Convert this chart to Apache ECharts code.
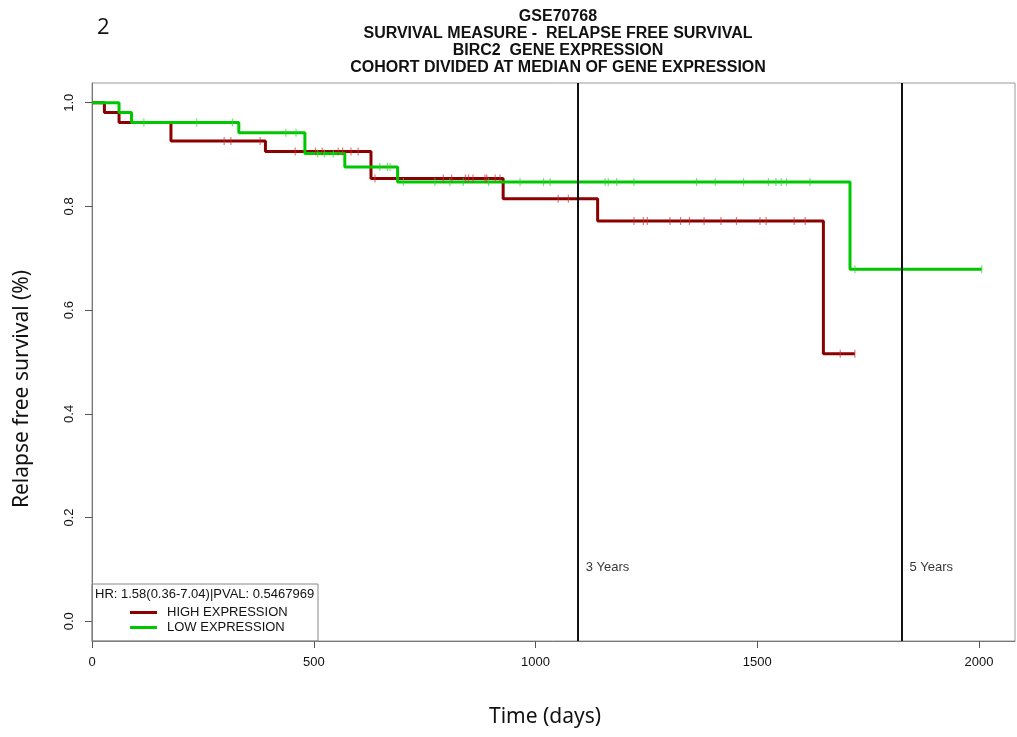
<!DOCTYPE html>
<html>
<head>
<meta charset="utf-8">
<script src="https://cdn.jsdelivr.net/npm/echarts@6/dist/echarts.min.js"></script>
<style>
html,body{margin:0;padding:0;background:#fff;}
#chart{width:1017px;height:737px;}
</style>
</head>
<body>
<div id="chart"></div>
<script>
// ---- data ----
const titleLines = ['GSE70768', 'SURVIVAL MEASURE -  RELAPSE FREE SURVIVAL', 'BIRC2  GENE EXPRESSION', 'COHORT DIVIDED AT MEDIAN OF GENE EXPRESSION'];
const panelLabel = '2';
const seriesNames = ['HIGH EXPRESSION', 'LOW EXPRESSION'];
const hrText = 'HR: 1.58(0.36-7.04)|PVAL: 0.5467969';

const highTimes = [0, 28, 61, 178, 391, 629, 927, 1140, 1649, 1720];
const highSurv  = [1.0, 0.981, 0.962, 0.926, 0.906, 0.854, 0.815, 0.772, 0.516, 0.516];
const highCensor = [298, 313, 379, 458, 504, 519, 555, 565, 584, 600, 638, 792, 811, 842, 849, 859, 886, 890, 909, 920, 1051, 1074, 1222, 1243, 1252, 1303, 1327, 1347, 1380, 1418, 1453, 1506, 1520, 1583, 1608, 1687, 1720];

const lowTimes = [0, 61, 89, 331, 480, 570, 689, 1709, 2006];
const lowSurv  = [1.0, 0.981, 0.962, 0.942, 0.902, 0.876, 0.847, 0.679, 0.679];
const lowCensor = [117, 236, 317, 437, 460, 509, 524, 544, 649, 666, 672, 702, 773, 807, 837, 894, 965, 1018, 1033, 1157, 1164, 1183, 1222, 1363, 1405, 1469, 1525, 1542, 1554, 1566, 1619, 1720, 2006];

const yearLines = [1095, 1825];
const yearLabels = ['3 Years', '5 Years'];
const yearLabelLevel = 0.103;

const xTicks = [0, 500, 1000, 1500, 2000];
const yTicks = [0, 0.2, 0.4, 0.6, 0.8, 1.0];

// ---- helpers ----
function steps(times, surv) { return times.map((t, i) => [t, surv[i]]); }
function survAt(times, surv, t) {
  let s = surv[0];
  for (let i = 0; i < times.length; i++) { if (times[i] <= t) s = surv[i]; }
  return s;
}
function censorPts(c, times, surv) { return c.map(t => [t, survAt(times, surv, t)]); }

const RED = '#8b0000', GREEN = '#00c800';
const chart = echarts.init(document.getElementById('chart'), null, {renderer: 'canvas'});

chart.setOption({
  animation: false,
  backgroundColor: '#fff',
  title: [
    {text: titleLines.join('\n'), left: 553, top: 3, textAlign: 'center',
     textStyle: {fontFamily: 'Liberation Sans', fontWeight: 'bold', fontSize: 16, lineHeight: 17, color: '#111'}},
    {text: panelLabel, left: 92, top: 12,
     textStyle: {fontFamily: 'Open Sans', fontWeight: 'normal', fontSize: 22, color: '#111'}}
  ],
  grid: {left: 92, top: 83, width: 923, height: 558, show: true, borderColor: '#999', borderWidth: 1, containLabel: false},
  xAxis: {
    type: 'value', min: 0, max: 2081,
    splitLine: {show: false},
    axisLine: {show: true, onZero: false, lineStyle: {color: '#777', width: 1}},
    axisTick: {show: true, length: 7, customValues: xTicks, lineStyle: {color: '#555'}},
    axisLabel: {customValues: xTicks, margin: 15, fontFamily: 'Liberation Sans', fontSize: 13, color: '#111',
      formatter: v => String(v)}
  },
  yAxis: {
    type: 'value', min: -0.038, max: 1.038,
    splitLine: {show: false},
    axisLine: {show: true, onZero: false, lineStyle: {color: '#777', width: 1}},
    axisTick: {show: true, length: 7, customValues: yTicks, lineStyle: {color: '#555'}},
    axisLabel: {customValues: yTicks, rotate: 90, margin: 16, fontFamily: 'Liberation Sans', fontSize: 13, color: '#111',
      formatter: v => v.toFixed(1)}
  },
  legend: {
    data: seriesNames.map(n => ({name: n, icon: 'rect'})),
    orient: 'vertical', left: 130, top: 606, itemWidth: 27, itemHeight: 3, itemGap: 2,
    padding: 0, z: 10,
    textStyle: {fontFamily: 'Liberation Sans', fontSize: 13, lineHeight: 13, color: '#111', padding: [0, 0, 0, 5]}
  },
  graphic: [
    {type: 'rect', shape: {x: 92, y: 584, width: 226, height: 57}, style: {fill: 'rgba(255,255,255,0)', stroke: '#888', lineWidth: 1}, z: 1},
    {type: 'text', x: 95, y: 588, style: {text: hrText, font: '13px "Liberation Sans"', fill: '#111'}, z: 6},
    {type: 'text', x: 22, y: 389, rotation: Math.PI / 2,
     style: {text: 'Relapse free survival (%)', font: '21px "Noto Sans"', fill: '#111', align: 'center', verticalAlign: 'middle'}},
    {type: 'text', x: 545, y: 717,
     style: {text: 'Time (days)', font: '21px "Noto Sans"', fill: '#111', align: 'center', verticalAlign: 'middle'}}
  ],
  series: [
    {name: seriesNames[0], type: 'line', step: 'end', data: steps(highTimes, highSurv), showSymbol: false, symbol: 'none',
     lineStyle: {color: RED, width: 3}, itemStyle: {color: RED}, z: 3},
    {name: seriesNames[1], type: 'line', step: 'end', data: steps(lowTimes, lowSurv), showSymbol: false, symbol: 'none',
     lineStyle: {color: GREEN, width: 3}, itemStyle: {color: GREEN}, z: 4,
     markLine: {silent: true, symbol: 'none', label: {show: false},
       lineStyle: {color: '#111', width: 2, type: 'solid'},
       data: yearLines.map(v => ({xAxis: v}))}},
    {name: 'high-censor', type: 'scatter', data: censorPts(highCensor, highTimes, highSurv),
     symbol: 'rect', symbolSize: [1.2, 8], itemStyle: {color: '#cc3030', opacity: 0.65}, z: 5},
    {name: 'low-censor', type: 'scatter', data: censorPts(lowCensor, lowTimes, lowSurv),
     symbol: 'rect', symbolSize: [1.2, 8], itemStyle: {color: '#30d030', opacity: 0.65}, z: 5},
    {name: 'year-labels', type: 'scatter', data: yearLines.map(v => [v, yearLabelLevel]), symbolSize: 0,
     label: {show: true, position: 'right', distance: 8, formatter: p => yearLabels[p.dataIndex],
       fontFamily: 'Liberation Sans', fontSize: 13, color: '#000'}}
  ]
});
</script>
</body>
</html>
